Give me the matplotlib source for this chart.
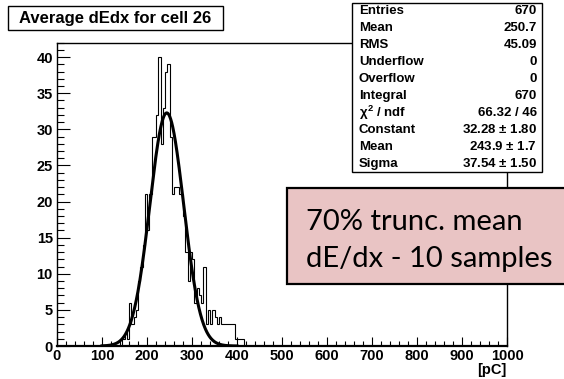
import numpy as np
import matplotlib
matplotlib.use("Agg")
from matplotlib import pyplot as plt
from matplotlib.patches import Rectangle
from matplotlib.ticker import MultipleLocator

# dE/dx histogram: 5 pC bins, lower edges 140 ... 415
bin_lo = np.arange(140, 420, 5)
counts = [0, 1, 2, 1, 6, 3, 4, 5,
          9, 11, 14, 21, 16, 21, 29, 29,
          32, 40, 28, 33, 38, 39, 29, 21,
          22, 22, 21, 21, 18, 13, 9, 13,
          12, 6, 8, 7, 6, 11, 3, 5,
          3, 5, 4, 3, 4, 3, 3, 3,
          3, 3, 3, 1, 1, 1, 1, 0]

# gaussian fit result
fit_const, fit_mean, fit_sigma = 32.28, 243.9, 37.54

stat_names = ["Entries", "Mean", "RMS", "Underflow", "Overflow", "Integral",
              r"$\chi^{2}$ / ndf", "Constant", "Mean", "Sigma"]
stat_vals = ["670", "250.7", "45.09", "0", "0", "670", "66.32 / 46",
             r"32.28 $\pm$ 1.80", r"243.9 $\pm$ 1.7", r"37.54 $\pm$ 1.50"]

plt.rcParams["font.family"] = ["Liberation Sans", "DejaVu Sans"]
plt.rcParams["font.weight"] = "bold"
plt.rcParams["mathtext.fontset"] = "custom"
plt.rcParams["mathtext.rm"] = "Liberation Sans:bold"
plt.rcParams["mathtext.it"] = "Liberation Sans:bold"

W, H = 564, 379
fig = plt.figure(figsize=(W / 100, H / 100), dpi=100)
ax = fig.add_axes([57 / W, 1 - 346 / H, 450 / W, 303.3 / H])

edges = np.append(bin_lo, bin_lo[-1] + 5)
ax.stairs(counts, edges, color="black", linewidth=0.8)

xf = np.linspace(100, 400, 400)
ax.plot(xf, fit_const * np.exp(-0.5 * ((xf - fit_mean) / fit_sigma) ** 2),
        color="black", linewidth=2.2)

ax.set_xlim(0, 1000)
ax.set_ylim(0, 42)
ax.xaxis.set_major_locator(MultipleLocator(100))
ax.xaxis.set_minor_locator(MultipleLocator(20))
ax.yaxis.set_major_locator(MultipleLocator(5))
ax.yaxis.set_minor_locator(MultipleLocator(1))
ax.tick_params(axis="x", which="major", direction="in", length=6.5, width=0.8,
               labelsize=10.5, pad=2.5)
ax.tick_params(axis="x", which="minor", direction="in", length=3.3, width=0.8)
ax.tick_params(axis="y", which="major", direction="in", length=9.5, width=0.8,
               labelsize=10.5, pad=3)
ax.tick_params(axis="y", which="minor", direction="in", length=4.7, width=0.8)
for s in ax.spines.values():
    s.set_linewidth(1.0)
ax.spines["bottom"].set_linewidth(1.6)

fig.text(507 / W, 1 - 370 / H, "[pC]", ha="right", va="center", fontsize=10.5,
         fontweight="bold")

# title box
fig.patches.append(Rectangle((8 / W, 1 - 30 / H), 215 / W, 23.5 / H,
                             transform=fig.transFigure, facecolor="white",
                             edgecolor="black", linewidth=1.0, zorder=5))
fig.text(115.5 / W, 1 - 18.5 / H, "Average dEdx for cell 26", ha="center",
         va="center", fontsize=12, fontweight="bold", zorder=6)

# stats box
bx0, bx1, by0, by1 = 352, 542, 3, 172
fig.patches.append(Rectangle((bx0 / W, 1 - by1 / H), (bx1 - bx0) / W,
                             (by1 - by0) / H, transform=fig.transFigure,
                             facecolor="white", edgecolor="black",
                             linewidth=1.0, zorder=5))
row_h = (by1 - by0) / len(stat_names)
for i, (name, val) in enumerate(zip(stat_names, stat_vals)):
    yy = 1 - (by0 + row_h * (i + 0.5)) / H
    fig.text((bx0 + 7) / W, yy, name, ha="left", va="center", fontsize=9.5,
             fontweight="bold", zorder=6)
    fig.text((bx1 - 5) / W, yy, val, ha="right", va="center", fontsize=9.5,
             fontweight="bold", zorder=6)

# note box
fig.patches.append(Rectangle((287 / W, 1 - 284 / H), 290 / W, 96 / H,
                             transform=fig.transFigure, facecolor="#e9c4c4",
                             edgecolor="black", linewidth=1.6, zorder=7))
fig.text(306 / W, 1 - 230 / H, "70% trunc. mean", ha="left", va="baseline",
         fontsize=21, fontweight="normal", family="Lato", zorder=8)
fig.text(306 / W, 1 - 267 / H, "dE/dx - 10 samples", ha="left", va="baseline",
         fontsize=21, fontweight="normal", family="Lato", zorder=8)

fig.savefig("out.png", dpi=100)
